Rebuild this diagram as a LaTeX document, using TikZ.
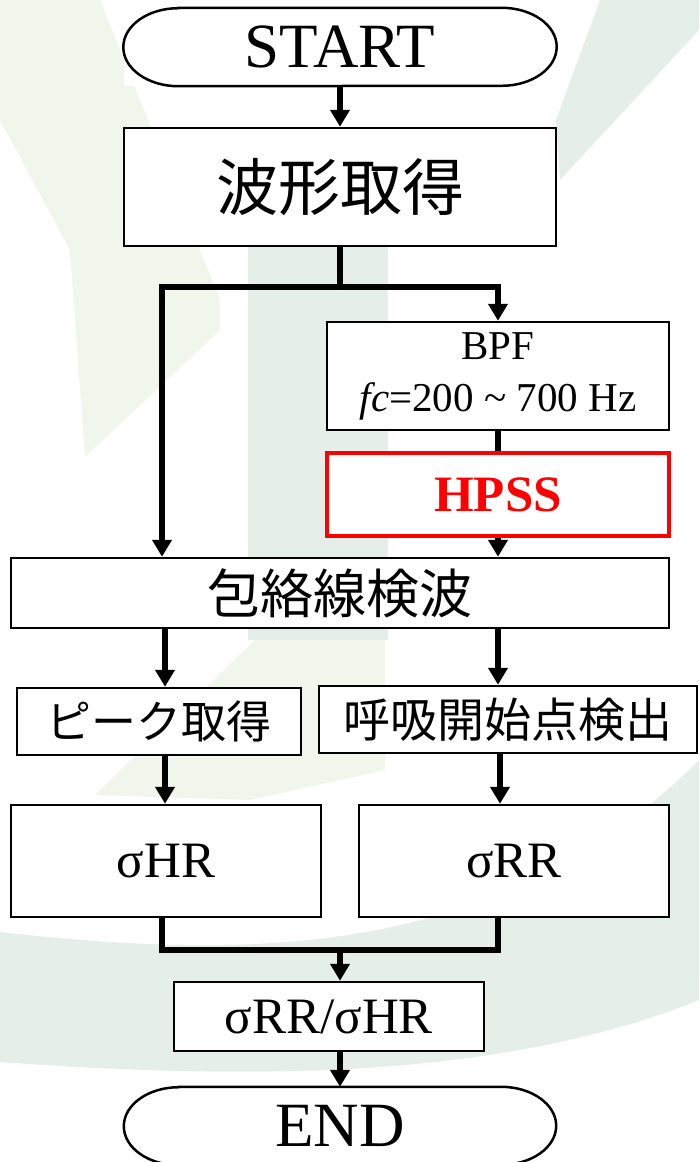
\documentclass[tikz,border=0pt]{standalone}
\usepackage{fontspec}
\setmainfont{Liberation Serif}
\newfontfamily\jp{Noto Sans CJK JP}
\usetikzlibrary{arrows.meta}
\definecolor{wmA}{HTML}{E6EEE9}
\definecolor{wmB}{HTML}{F0F6EC}
\definecolor{hred}{HTML}{FF0000}
\tikzset{
  box/.style={draw=black, line width=2.5pt, fill=white, inner sep=0pt, align=center},
  termbox/.style={fill=white, inner sep=0pt},
  termline/.style={draw=black, line width=2.5pt},
  redbox/.style={draw=hred, line width=4pt, fill=white, inner sep=0pt},
  ln/.style={line width=5.5pt},
  arr/.style={line width=5.5pt, -{Triangle[width=19pt,length=17pt]}},
}
\begin{document}
\begin{tikzpicture}[x=1pt,y=-1pt]
\useasboundingbox (0,0) rectangle (699,1162);
% faint watermark
\fill[wmB] (0,0) -- (100,0) -- (220,300) -- (220,330) -- (85,457) -- (70,250) -- (0,120) -- cycle;
\fill[wmA] (248,240) rectangle (388,640);
\fill[wmA] (600,0) -- (699,0) -- (699,30) -- (560,180) -- (556,120) -- cycle;
\fill[wmB] (95,795) -- (255,640) -- (385,640) -- (385,770) -- (250,800) -- cycle;
\fill[wmA] (0,932) .. controls (250,960) and (500,960) .. (699,760) -- (699,1000) .. controls (500,1080) and (250,1080) .. (0,1062) -- cycle;

% nodes
\node[termbox, minimum width=433pt, minimum height=78pt] (start) at (340,47)
  {\fontsize{63}{63}\selectfont START};
\draw[termline] ([xshift=55pt]start.north west) -- ([xshift=-55pt]start.north east)
  arc[start angle=90, end angle=-90, x radius=55pt, y radius=39pt]
  -- ([xshift=55pt]start.south west)
  arc[start angle=270, end angle=90, x radius=55pt, y radius=39pt] -- cycle;
\node[box, minimum width=432pt, minimum height=118pt] (wave) at (340,187)
  {\jp\fontsize{62}{62}\selectfont 波形取得};
\node[box, minimum width=342pt, minimum height=108pt,
  font=\fontsize{41}{52}\selectfont] (bpf) at (498,376)
  {BPF\\\textit{fc}=200 \textasciitilde{} 700 Hz};
\node[redbox, minimum width=342pt, minimum height=83pt] (hpss) at (498,494.5)
  {\fontsize{51}{51}\selectfont\bfseries\color{hred}HPSS};
\node[box, minimum width=658pt, minimum height=70pt] (env) at (340,593)
  {\jp\fontsize{53}{53}\selectfont 包絡線検波};
\node[box, minimum width=284pt, minimum height=67pt] (peak) at (159,721.5)
  {\jp\fontsize{45}{45}\selectfont ピーク取得};
\node[box, minimum width=378pt, minimum height=67pt] (resp) at (508,719.5)
  {\jp\fontsize{47}{47}\selectfont 呼吸開始点検出};
\node[box, minimum width=310pt, minimum height=112pt] (shr) at (166,861)
  {\fontsize{51}{51}\selectfont σHR};
\node[box, minimum width=310pt, minimum height=112pt] (srr) at (514,861)
  {\fontsize{51}{51}\selectfont σRR};
\node[box, minimum width=310pt, minimum height=69pt] (ratio) at (329,1016.5)
  {\fontsize{51}{51}\selectfont σRR/σHR};
\node[termbox, minimum width=432pt, minimum height=78pt] (end) at (340,1126)
  {\fontsize{63}{63}\selectfont END};
\draw[termline] ([xshift=55pt]end.north west) -- ([xshift=-55pt]end.north east)
  arc[start angle=90, end angle=-90, x radius=55pt, y radius=39pt]
  -- ([xshift=55pt]end.south west)
  arc[start angle=270, end angle=90, x radius=55pt, y radius=39pt] -- cycle;

% column coordinates
\coordinate (colL) at (162,0);
\coordinate (colL2) at (165,0);
\coordinate (colR) at (498,0);
\coordinate (colR2) at (500,0);
\coordinate (jl) at (162,287);
\coordinate (jr) at (498,287);
\coordinate (m) at (340,950);

% connectors
\draw[arr] (start.south) -- (wave.north);
\draw[arr] (wave.south) |- (jl) -- (colL |- env.north);
\draw[arr] (wave.south) |- (jr) -- (bpf.north);
\draw[ln] (bpf.south) -- (hpss.north);
\draw[arr] (hpss.south) -- (colR |- env.north);
\draw[arr] (colL2 |- env.south) -- (colL2 |- peak.north);
\draw[arr] (colR |- env.south) -- (colR |- resp.north);
\draw[arr] (colL2 |- peak.south) -- (colL2 |- shr.north);
\draw[arr] (colR2 |- resp.south) -- (colR2 |- srr.north);
\draw[ln] (colL |- shr.south) |- (m) -| (colR |- srr.south);
\draw[arr] (m) -- (m |- ratio.north);
\draw[arr] (m |- ratio.south) -- (end.north);
\end{tikzpicture}
\end{document}
